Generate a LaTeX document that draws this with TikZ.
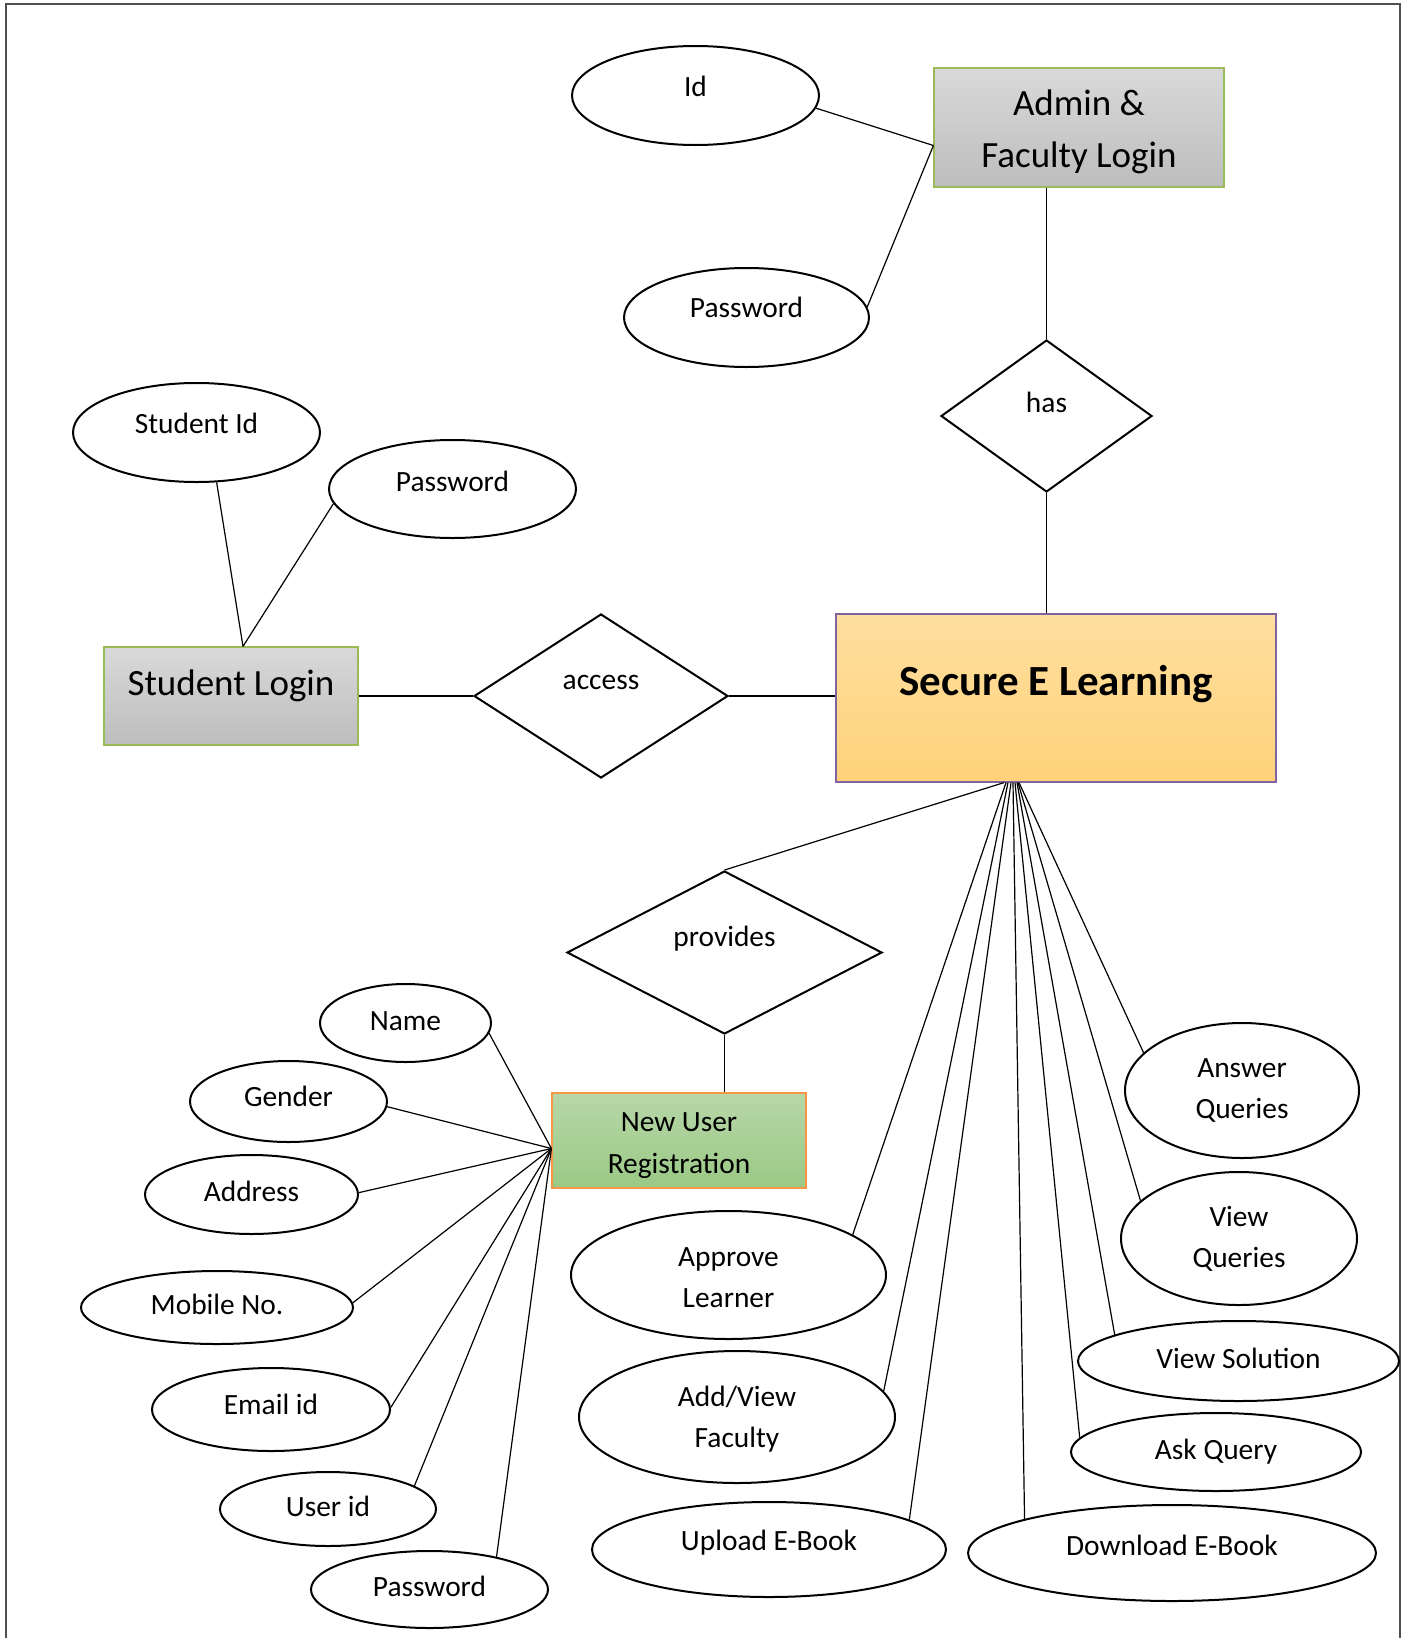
\documentclass[tikz,border=0pt]{standalone}
\usepackage{fontspec}
\setmainfont{Carlito}
\usetikzlibrary{shapes.geometric}

\definecolor{frameGrey}{HTML}{505050}
\definecolor{greyTop}{HTML}{D9D9D9}
\definecolor{greyBot}{HTML}{BDBDBD}
\definecolor{greenEdge}{HTML}{9BBB59}
\definecolor{goldTop}{HTML}{FFDF9F}
\definecolor{goldBot}{HTML}{FFD27A}
\definecolor{purpleEdge}{HTML}{8064A2}
\definecolor{leafTop}{HTML}{B7D7A8}
\definecolor{leafBot}{HTML}{9BC985}
\definecolor{orangeEdge}{HTML}{F79646}

% invisible strut that pushes a multi-line label down a little
\newcommand{\topstrut}[1]{\rule{0pt}{#1}}

\tikzset{
  attr/.style={ellipse, draw, line width=1pt, inner sep=0pt, align=center,
    font=\fontsize{14.7}{20.5}\selectfont},
  rel/.style={diamond, draw, line width=1pt, inner sep=0pt,
    font=\fontsize{14.7}{20.5}\selectfont, text height=10pt},
  oneline/.style={text height=10pt, text depth=#1},
  entbox/.style={rectangle, inner sep=0pt, line width=0.6pt, align=center},
  greybox/.style={entbox, draw=greenEdge, top color=greyTop, bottom color=greyBot},
  link/.style={line width=0.6pt}
}

\begin{document}
\begin{tikzpicture}[x=0.5pt, y=-0.5pt]
\useasboundingbox (0,0) rectangle (1408,1638);

% page frame
\draw[frameGrey, line width=1pt] (6,1638) -- (6,4) -- (1400,4) -- (1400,1638);

% ---- entities ----
\node[greybox, minimum width=145pt, minimum height=59.5pt,
      font=\fontsize{18.5}{26}\selectfont] (adm) at (1079,127.5) {\topstrut{17pt}Admin \&\\Faculty Login};
\node[greybox, minimum width=127pt, minimum height=49pt,
      font=\fontsize{18.5}{23}\selectfont, text height=13pt, text depth=13.5pt] (stu) at (231,696) {Student Login};
\node[entbox, draw=purpleEdge, top color=goldTop, bottom color=goldBot,
      minimum width=220pt, minimum height=84pt,
      font=\fontsize{21.5}{26}\selectfont\bfseries, text height=15pt, text depth=18pt] (sel) at (1056,698) {Secure E Learning};
\node[entbox, draw=orangeEdge, top color=leafTop, bottom color=leafBot,
      minimum width=127pt, minimum height=47.5pt,
      font=\fontsize{14.7}{21}\selectfont] (nur) at (679,1140.5) {\topstrut{14.5pt}New User\\Registration};

% ---- relationships ----
\node[rel, minimum width=105.5pt, minimum height=76pt, text depth=14pt] (has) at (1046.5,416) {has};
\node[rel, minimum width=127pt, minimum height=82pt, text depth=17pt] (acc) at (601,696) {access};
\node[rel, minimum width=157.5pt, minimum height=81.5pt, text depth=16.5pt] (prov) at (724.5,952.5) {provides};

% ---- attributes: admin & faculty ----
\node[attr, oneline=9.5pt, minimum width=123.5pt, minimum height=49.5pt] (aid) at (695.5,95.5) {Id};
\node[attr, oneline=10pt, minimum width=122.5pt, minimum height=49.5pt] (apw) at (746.5,317.5) {Password};

% ---- attributes: student ----
\node[attr, oneline=9pt, minimum width=123.5pt, minimum height=49.5pt] (sid) at (196.5,432.5) {Student Id};
\node[attr, oneline=8pt, minimum width=123.5pt, minimum height=49pt] (spw) at (452.5,489) {Password};

% ---- attributes: new user ----
\node[attr, oneline=3pt, minimum width=85.5pt, minimum height=39pt] (nm) at (405.5,1023) {Name};
\node[attr, oneline=5pt, minimum width=98.5pt, minimum height=40.5pt] (gen) at (288.5,1101.5) {Gender};
\node[attr, oneline=3pt, minimum width=106.5pt, minimum height=39.5pt] (adr) at (251.5,1194.5) {Address};
\node[attr, oneline=3pt, minimum width=136pt, minimum height=36.5pt] (mob) at (217,1307.5) {Mobile No.};
\node[attr, oneline=5pt, minimum width=119pt, minimum height=41.5pt] (eml) at (271,1409.5) {Email id};
\node[attr, oneline=3pt, minimum width=108pt, minimum height=37pt] (uid) at (328,1509) {User id};
\node[attr, oneline=3pt, minimum width=118.5pt, minimum height=38.5pt] (upw) at (429.5,1589.5) {Password};

% ---- attributes: secure e learning ----
\node[attr, minimum width=157.5pt, minimum height=64pt] (apl) at (728.5,1275) {\topstrut{12.5pt}Approve\\Learner};
\node[attr, minimum width=158pt, minimum height=66pt] (avf) at (737,1417) {\topstrut{12.5pt}Add/View\\Faculty};
\node[attr, oneline=9pt, minimum width=177pt, minimum height=47.5pt] (upl) at (769,1549.5) {Upload E-Book};
\node[attr, oneline=8pt, minimum width=204pt, minimum height=48pt] (dwn) at (1172,1553) {Download E-Book};
\node[attr, oneline=3pt, minimum width=145pt, minimum height=39pt] (ask) at (1216,1452) {Ask Query};
\node[attr, oneline=3pt, minimum width=160.5pt, minimum height=40pt] (vsl) at (1238.5,1361) {View Solution};
\node[attr, minimum width=118pt, minimum height=66.5pt] (vq) at (1239,1238.5) {View\\Queries};
\node[attr, minimum width=117pt, minimum height=67.5pt] (ans) at (1242,1090.5) {Answer\\Queries};

% ---- connectors ----
\coordinate (admIn) at ([yshift=-9pt]adm.west);
\draw[link] (aid.-6) -- (admIn);
\draw[link] (apw.5) -- (admIn);
\draw[link] (has.north) -- (has.north |- adm.south);
\draw[link] (has.south) -- (has.south |- sel.north);

\coordinate (stuIn) at ([xshift=6pt]stu.north);
\draw[link] (sid.-68) -- (stuIn);
\draw[link] (spw.-173) -- (stuIn);
\draw[link] (stu.east) -- (acc.west);
\draw[link] (acc.east) -- (acc.east -| sel.west);

\draw[link] ([xshift=-26pt]sel.south) -- (prov.north);
\draw[link] (prov.south) -- (prov.south |- nur.north);

\coordinate (nurIn) at ([yshift=-4pt]nur.west);
\draw[link] (nurIn) -- (nm.-7);
\draw[link] (nurIn) -- (gen.-3);
\draw[link] (nurIn) -- (adr.1);
\draw[link] (nurIn) -- (mob.2);
\draw[link] (nurIn) -- (eml.1);
\draw[link] (nurIn) -- (uid.15);
\draw[link] (nurIn) -- (upw.26);

\draw[link] ([xshift=-25pt]sel.south) -- (apl.18);
\draw[link] ([xshift=-24pt]sel.south) -- (avf.10);
\draw[link] ([xshift=-22.5pt]sel.south) -- (upl.12);
\draw[link] ([xshift=-21.5pt]sel.south) -- (dwn.167);
\draw[link] ([xshift=-20.5pt]sel.south) -- (ask.174);
\draw[link] ([xshift=-19.5pt]sel.south) -- (vsl.168);
\draw[link] ([xshift=-19pt]sel.south) -- (vq.159);
\draw[link] ([xshift=-18.5pt]sel.south) -- (ans.159);
\end{tikzpicture}
\end{document}
